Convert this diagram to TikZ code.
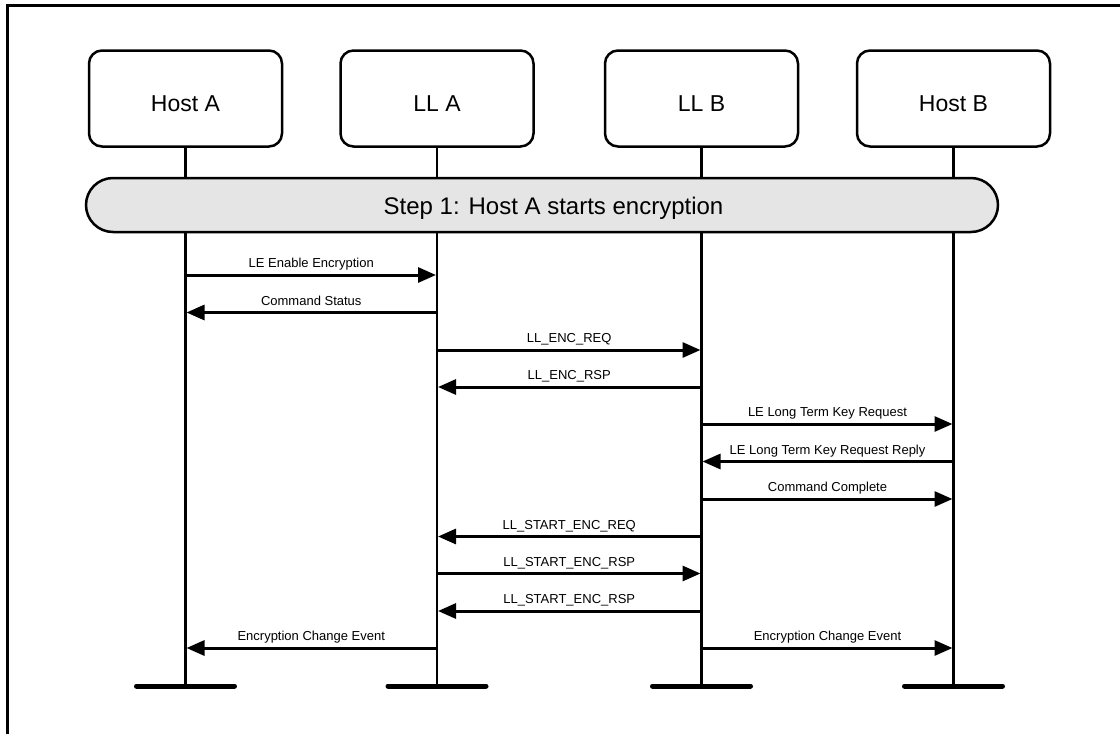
\documentclass[tikz,border=0pt]{standalone}
\usepackage{fontspec}
\setmainfont{Liberation Sans}
\usetikzlibrary{arrows.meta,calc}
\tikzset{
  entity/.style={draw, line width=2.5pt, rounded corners=13pt, minimum width=193pt, minimum height=96pt, inner sep=0pt, font=\fontsize{23}{26}\selectfont, text height=25.4pt, text depth=0pt, fill=white},
  stepbox/.style={draw, line width=2.5pt, rounded corners=27pt, minimum width=912pt, minimum height=54pt, inner sep=0pt, fill=black!10},
  steptext/.style={inner sep=0pt, font=\fontsize{24}{28}\selectfont, text height=19.2pt, text depth=0pt},
  lifeline/.style={line width=2.5pt},
  endbar/.style={line width=5pt, line cap=round},
  msg/.style={line width=3pt, -{Triangle[length=18pt,width=15pt]}, shorten >=1pt},
  msglabel/.style={anchor=base, yshift=7.5pt, inner sep=0pt, font=\fontsize{13}{15}\selectfont},
  frameline/.style={line width=3pt}
}
\newcommand{\seqmsg}[4]{%
  \draw[msg] (#1 |- 0,#3) -- (#2 |- 0,#3) node[msglabel, pos=0.5] {#4};}
\begin{document}
\begin{tikzpicture}[x=1pt,y=-1pt]
\useasboundingbox (0,0) rectangle (1120,734);
% frame
\coordinate (fbl) at (7.5,734);
\coordinate (ftl) at (7.5,5);
\coordinate (ftr) at (1120,5);
\draw[frameline] (fbl) -- (ftl) -- (ftr);
% entities
\node[entity] (hA) at (185.5,98.5) {Host A};
\node[entity] (lA) at (437,98.5) {LL A};
\node[entity] (lB) at (701.5,98.5) {LL B};
\node[entity] (hB) at (953.5,98.5) {Host B};
% lifeline ends
\coordinate (hAe) at (185.5,686);
\coordinate (lAe) at (437,686);
\coordinate (lBe) at (701.5,686);
\coordinate (hBe) at (953.5,686);
\foreach \n in {hA,lA,lB,hB}{
  \draw[lifeline] (\n.south) -- (\n e);
  \draw[endbar] ($(\n e)+(-49,0)$) -- ($(\n e)+(49,0)$);
}
% step box
\node[stepbox] (step) at (542,205) {};
\node[steptext] (steplabel) at (553.5,205) {Step 1: Host A starts encryption};
% messages
\seqmsg{hA}{lA}{275}{LE Enable Encryption}
\seqmsg{lA}{hA}{312.5}{Command Status}
\seqmsg{lA}{lB}{350}{LL\_ENC\_REQ}
\seqmsg{lB}{lA}{387}{LL\_ENC\_RSP}
\seqmsg{lB}{hB}{424}{LE Long Term Key Request}
\seqmsg{hB}{lB}{461.5}{LE Long Term Key Request Reply}
\seqmsg{lB}{hB}{499}{Command Complete}
\seqmsg{lB}{lA}{536.5}{LL\_START\_ENC\_REQ}
\seqmsg{lA}{lB}{573.5}{LL\_START\_ENC\_RSP}
\seqmsg{lB}{lA}{611}{LL\_START\_ENC\_RSP}
\seqmsg{lA}{hA}{648}{Encryption Change Event}
\seqmsg{lB}{hB}{648}{Encryption Change Event}
\end{tikzpicture}
\end{document}
